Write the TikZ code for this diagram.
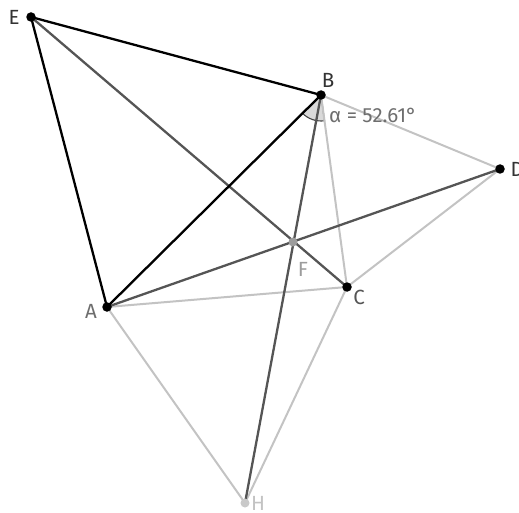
\documentclass[tikz,border=0pt]{standalone}
\usepackage{fontspec}
\setmainfont{Fira Sans}
\definecolor{ink}{RGB}{0,0,0}
\definecolor{mid}{RGB}{85,85,85}
\definecolor{pale}{RGB}{195,195,195}
\definecolor{lbl}{RGB}{110,110,110}

\begin{document}
\begin{tikzpicture}[x=1pt,y=-1pt,font=\fontsize{20.5}{23}\selectfont,
 pt/.style={circle,fill=ink,inner sep=0pt,minimum size=9.5pt},
 hard/.style={draw=ink,line width=2.3pt},
 soft/.style={draw=mid,line width=2.3pt},
 faint/.style={draw=pale,line width=2pt}]
\useasboundingbox (0,0) rectangle (519,513);
% points
\coordinate (E) at (31,17);
\coordinate (B) at (321,95);
\coordinate (D) at (500,169);
\coordinate (F) at (293,242);
\coordinate (C) at (347,287);
\coordinate (A) at (107,307);
\coordinate (H) at (245,503);
% angle at B
\filldraw[draw=black!75,line width=1.1pt,fill=black!15] (B) -- ++(82.3:26) arc[start angle=82.3,end angle=135.3,radius=26] -- cycle;
\foreach \a/\b in {B/D,D/C,B/C,A/C,A/H,C/H}{\draw[faint] (\a)--(\b);}
\foreach \a/\b in {E/C,A/D,B/H}{\draw[soft] (\a)--(\b);}
\foreach \a/\b in {E/B,E/A,A/B}{\draw[hard] (\a)--(\b);}
\foreach \p in {E,B,D,C,A}{\node[pt] (p\p) at (\p) {};}
\node[pt,fill=pale!80!black,minimum size=9pt] (pF) at (F) {};
\node[pt,fill=pale!90,minimum size=9pt] (pH) at (H) {};
% labels
\node[text=black!80] (lE) at (14,17) {E};
\node[text=black!80] (lB) at (328,80) {B};
\node[text=black!80,anchor=west] (lD) at (507,169) {D};
\node[text=lbl] (lA) at (91,311) {A};
\node[text=mid] (lC) at (359,297) {C};
\node[text=pale!80!black] (lF) at (303,269) {F};
\node[text=pale,anchor=south] (lH) at (258,514) {H};
\node[text=lbl,anchor=west,inner sep=1pt] (alpha) at (328,115) {α = 52.61°};
\end{tikzpicture}
\end{document}
